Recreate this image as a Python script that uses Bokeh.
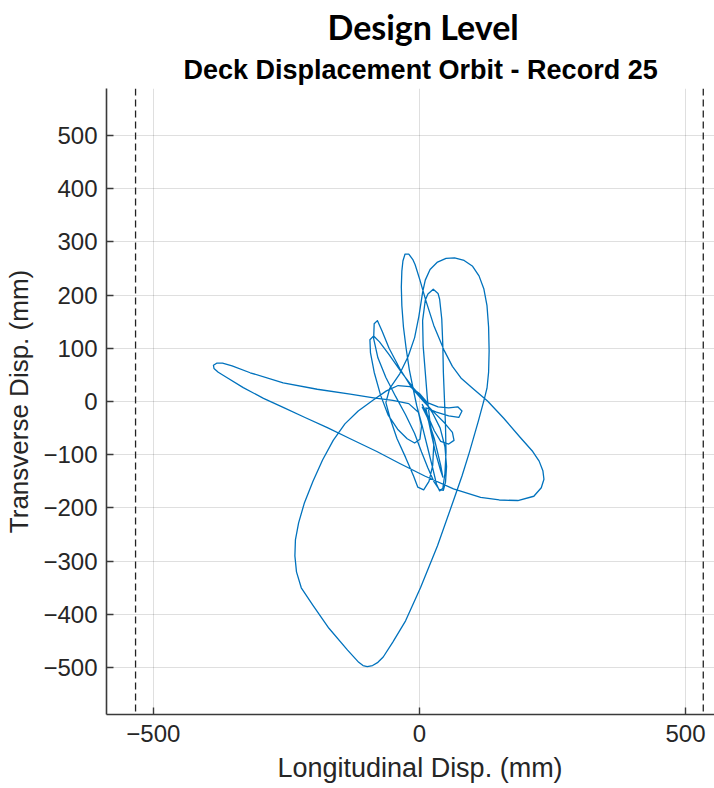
from bokeh.plotting import figure
from bokeh.models import Span, Title, Range1d, FixedTicker
from bokeh.embed import file_html
from bokeh.resources import INLINE

# Deck displacement orbit (mm)
long_disp = [
    5, 15, 28, 40, 55, 65, 62, 47, 27, 8,
    -14, -37, -57, -70, -79, -85, -86, -78, -63, -45, -26, -9, 4, 16, 27, 37, 45, 49, 51, 48, 39, 25, 9,
    -11, -34, -57, -75, -86, -93, -92, -85, -73, -59, -41, -23, -9, 1, 4, -2,
    -20, -50, -86, -130, -192, -256, -318, -352, -370, -381, -387, -386, -378, -362, -331, -293, -256, -215, -173, -130,
    -80, -36, 10, 64, 115, 150, 185, 215, 229, 234, 232, 225, 213, 190, 158, 128, 101, 79, 62, 46,
    27, 12, 1, -8, -12, -20, -27, -31, -33, -34, -33, -30, -25, -19, -12, -5, 5, 15, 25, 32, 38, 44, 48,
    50, 49, 47, 45, 44, 42, 38, 35, 26, 16, 11, 6, 7, 11, 15, 20, 27, 25, 18, 8, -3, -11, -26, -42, -55, -63,
    -56, -37, -21, -9, -1, 6, 11, 20, 34, 50, 66, 84, 100, 112, 121, 127, 130, 131, 130, 127,
    122, 111, 94, 80, 64, 34, 2, -26, -50, -68, -78, -88, -98, -106, -114, -135, -170, -200, -222, -231,
    -234, -233, -227, -216, -200, -182, -162, -140, -115, -88, -62, -40,
    -18, 0, 15, 35, 55, 72, 80, 74, 55, 32, 12, 20, 30, 40, 44, 40, 28, 15, 5,
]
trans_disp = [
    -5, -25, -55, -75, -80, -73, -58, -40, -20, 0,
    25, 62, 100, 132, 152, 146, 118, 82, 45, 10, -25, -60, -95, -125, -150, -165, -167, -152, -122, -85, -50, -22, 2,
    25, 55, 88, 112, 123, 116, 92, 55, 12, -25, -52, -70, -78, -71, -46, -20,
    -4, 2, 7, 14, 23, 35, 54, 67, 72, 72, 68, 62, 55, 45, 26, 6, -11, -30, -49, -70,
    -94, -117, -140, -164, -180, -185, -186, -178, -162, -146, -130, -112, -94, -68, -31, 1, 24, 43, 66, 97,
    143, 190, 228, 257, 266, 277, 277, 264, 245, 215, 180, 140, 100, 60, 25, -8, -45, -85, -125, -155, -168, -163, -135,
    -95, -45, 5, 55, 105, 155, 192, 203, 211, 202, 190, 152, 105, 55, 5, -40, -80, -120, -150, -166, -161, -140, -105, -70, -32, -2,
    24, 52, 85, 120, 160, 205, 228, 248, 262, 269, 270, 265, 254, 236, 212, 180, 140, 95, 55, 25,
    5, -36, -95, -140, -186, -271, -350, -412, -452, -480, -490, -496, -498, -496, -490, -467, -426, -383, -350, -320,
    -290, -260, -228, -190, -150, -110, -73, -42, -18, 2, 20, 30,
    28, 15, -2, -10, -12, -10, -18, -30, -27, -20, -12, -50, -95, -130, -142, -120, -70, -30, -10,
]
limit_disp = [-533.4, 533.4]
x_ticks = [-500, 0, 500]
y_ticks = [-500, -400, -300, -200, -100, 0, 100, 200, 300, 400, 500]

AX = "#262626"
FONT = "Liberation Sans"

p = figure(width=714, height=788, output_backend="svg", toolbar_location=None,
           x_range=Range1d(-588, 554.5), y_range=Range1d(-588, 588),
           min_border_left=106, min_border_right=0, min_border_top=88, min_border_bottom=74)
p.outline_line_color = None
p.background_fill_color = "white"
p.border_fill_color = "white"

# titles (p.title is the outer one, the added one sits next to the frame)
p.title.text = "Design Level"
p.title.align = "left"
p.title.offset = 221
p.title.text_font = "Lato"
p.title.text_font_size = "34px"
p.title.text_font_style = "bold"
p.title.text_color = "black"
p.title.standoff = 4
p.add_layout(Title(text="Deck Displacement Orbit - Record 25", align="left", offset=77,
                   text_font=FONT, text_font_size="27px", text_font_style="bold",
                   text_color="black", standoff=8), "above")

# axes
for ax in (p.xaxis, p.yaxis):
    ax.major_label_text_font = FONT
    ax.major_label_text_font_size = "24px"
    ax.major_label_text_color = AX
    ax.axis_line_color = "#3a3a3a"
    ax.axis_line_width = 1.6
    ax.major_tick_line_color = "#3a3a3a"
    ax.major_tick_line_width = 1.4
    ax.major_tick_in = 7
    ax.major_tick_out = 0
    ax.minor_tick_line_color = None
    ax.axis_label_text_font = FONT
    ax.axis_label_text_font_size = "26px"
    ax.axis_label_text_font_style = "normal"
    ax.axis_label_text_color = AX
p.xaxis.ticker = FixedTicker(ticks=x_ticks)
p.yaxis.ticker = FixedTicker(ticks=y_ticks)
p.xaxis.major_label_standoff = 10
p.yaxis.major_label_standoff = 9
p.yaxis.axis_label = "Transverse Disp. (mm)"
p.yaxis.axis_label_standoff = 6
p.add_layout(Title(text="Longitudinal Disp. (mm)", align="left", offset=171, text_font=FONT,
                   text_font_size="27px", text_font_style="normal", text_color=AX,
                   standoff=12), "below")

p.xgrid.ticker = FixedTicker(ticks=x_ticks)
p.ygrid.ticker = FixedTicker(ticks=y_ticks)
for g in (p.xgrid, p.ygrid):
    g.grid_line_color = AX
    g.grid_line_alpha = 0.15
    g.grid_line_width = 1

for lim in limit_disp:
    p.add_layout(Span(location=lim, dimension="height", line_color="#222222",
                      line_width=1.3, line_dash="7 4"))

p.line(long_disp, trans_disp, line_color="#0072BD", line_width=1.3, line_join="round")

open("out.html", "w").write(file_html(p, INLINE))
